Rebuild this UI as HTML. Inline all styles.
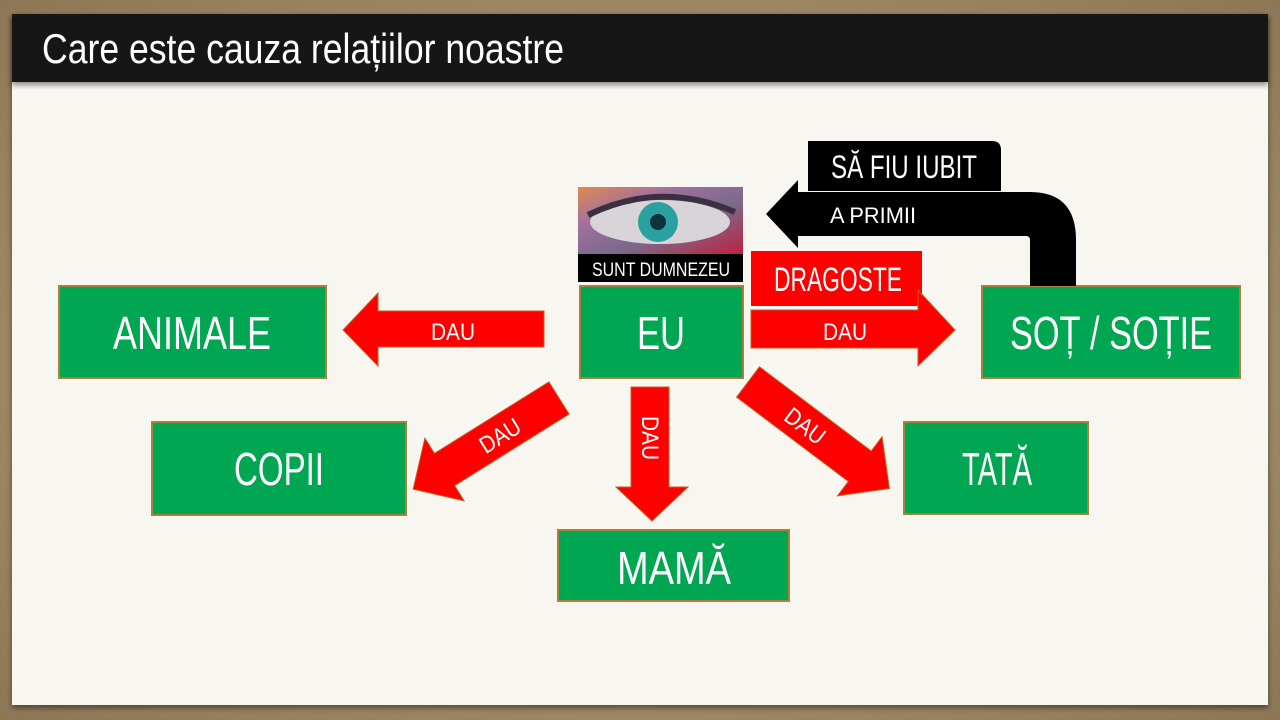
<!DOCTYPE html>
<html><head><meta charset="utf-8">
<style>
html,body{margin:0;padding:0;width:1280px;height:720px;overflow:hidden;background:#a48d6a;}
svg{display:block}
text{font-family:"Liberation Sans Narrow","Liberation Sans",sans-serif;fill:#fff;}
</style></head>
<body>
<svg width="1280" height="720" viewBox="0 0 1280 720" xmlns="http://www.w3.org/2000/svg">
<defs>
<radialGradient id="fr" cx="50%" cy="50%" r="75%">
<stop offset="0" stop-color="#c2ab85"/><stop offset="1" stop-color="#8a7352"/></radialGradient>
<linearGradient id="eye" x1="0" y1="0" x2="1" y2="1">
<stop offset="0" stop-color="#e08a50"/><stop offset="0.3" stop-color="#a070a0"/><stop offset="0.6" stop-color="#7a6a8a"/><stop offset="1" stop-color="#c02040"/></linearGradient>
<filter id="sh" x="-5%" y="-5%" width="110%" height="115%"><feDropShadow dx="0" dy="3" stdDeviation="3" flood-color="#000" flood-opacity="0.45"/></filter>
</defs>
<rect width="1280" height="720" fill="url(#fr)"/>
<rect x="12" y="14" width="1256" height="691" fill="#f8f6f1" filter="url(#sh)"/>
<rect x="12" y="14" width="1256" height="68" fill="#161412" filter="url(#sh)"/>
<text x="42" y="63" font-size="42" textLength="522" lengthAdjust="spacingAndGlyphs">Care este cauza relațiilor noastre</text>

<!-- boxes -->
<g fill="#00a651" stroke="#a8823a" stroke-width="2">
<rect x="59" y="286" width="267" height="92"/>
<rect x="580" y="286" width="163" height="92"/>
<rect x="982" y="286" width="258" height="92"/>
<rect x="152" y="422" width="254" height="93"/>
<rect x="904" y="422" width="184" height="92"/>
<rect x="558" y="530" width="231" height="71"/>
</g>
<g font-size="46">
<text x="192" y="349" text-anchor="middle" textLength="158" lengthAdjust="spacingAndGlyphs">ANIMALE</text>
<text x="661" y="349" text-anchor="middle" textLength="48" lengthAdjust="spacingAndGlyphs">EU</text>
<text x="1111" y="349" text-anchor="middle" textLength="202" lengthAdjust="spacingAndGlyphs">SOȚ / SOȚIE</text>
<text x="279" y="485" text-anchor="middle" textLength="90" lengthAdjust="spacingAndGlyphs">COPII</text>
<text x="997" y="485" text-anchor="middle" textLength="70" lengthAdjust="spacingAndGlyphs">TATĂ</text>
<text x="674" y="584" text-anchor="middle" textLength="114" lengthAdjust="spacingAndGlyphs">MAMĂ</text>
</g>

<!-- eye image -->
<rect x="578" y="187" width="165" height="67" fill="url(#eye)"/>
<ellipse cx="660" cy="222" rx="70" ry="22" fill="#d8d4d8"/>
<circle cx="658" cy="222" r="20" fill="#2aa0a0"/>
<circle cx="658" cy="222" r="8" fill="#123040"/>
<path d="M588 215 Q660 180 735 212" stroke="#3a3040" stroke-width="6" fill="none"/>
<rect x="578" y="254" width="165" height="28" fill="#000"/>
<text x="661" y="276" text-anchor="middle" font-size="19" textLength="138" lengthAdjust="spacingAndGlyphs">SUNT DUMNEZEU</text>

<!-- black return arrow -->
<path d="M1030 286 V240 Q1030 236 1026 236 H798 V248 L766 214 L798 180 V192 H1030 Q1076 192 1076 240 V286 Z" fill="#000"/>
<path d="M808 141 H992 Q1001 141 1001 150 V191 H808 Z" fill="#000"/>
<text x="904" y="178" text-anchor="middle" font-size="32" textLength="146" lengthAdjust="spacingAndGlyphs">SĂ FIU IUBIT</text>
<text x="830" y="223" font-size="22" textLength="86" lengthAdjust="spacingAndGlyphs">A PRIMII</text>

<!-- left arrow -->
<path d="M544 311 V347 H378 V366 L343 330 L378 293 V311 Z" fill="#f00" stroke="#c06020" stroke-width="1"/>
<text x="453" y="340" text-anchor="middle" font-size="24" textLength="44" lengthAdjust="spacingAndGlyphs">DAU</text>

<!-- right arrows -->
<rect x="751" y="251" width="171" height="55" fill="#f00"/>
<text x="838" y="291" text-anchor="middle" font-size="34" textLength="128" lengthAdjust="spacingAndGlyphs">DRAGOSTE</text>
<path d="M751 310 H918 V290 L955 330 L918 366 V348 H751 Z" fill="#f00" stroke="#c06020" stroke-width="1"/>
<text x="845" y="340" text-anchor="middle" font-size="24" textLength="44" lengthAdjust="spacingAndGlyphs">DAU</text>

<!-- down arrow -->
<path d="M631 387 H669 V487 H688 L652 521 L616 487 H631 Z" fill="#f00" stroke="#c06020" stroke-width="1"/>
<text transform="translate(642 438) rotate(90)" text-anchor="middle" font-size="24" textLength="44" lengthAdjust="spacingAndGlyphs">DAU</text>

<!-- copii arrow -->
<g transform="translate(559 398) rotate(148)">
<path d="M0 -19 H135 V-37 L172 0 L135 37 V19 H0 Z" fill="#f00" stroke="#c06020" stroke-width="1"/>
<text transform="translate(70 0) rotate(180)" y="9" text-anchor="middle" font-size="24" textLength="44" lengthAdjust="spacingAndGlyphs">DAU</text>
</g>

<!-- tata arrow -->
<g transform="translate(748 382) rotate(37)">
<path d="M0 -19 H140 V-37 L177 0 L140 37 V19 H0 Z" fill="#f00" stroke="#c06020" stroke-width="1"/>
<text x="72" y="9" text-anchor="middle" font-size="24" textLength="44" lengthAdjust="spacingAndGlyphs">DAU</text>
</g>
</svg>
</body></html>
